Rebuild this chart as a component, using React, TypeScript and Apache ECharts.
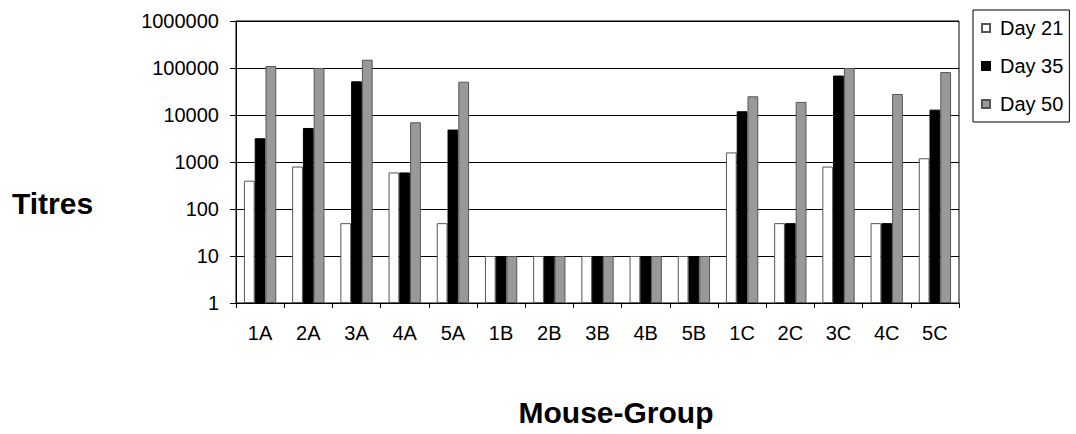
import React, { useEffect, useRef } from "react";
import * as echarts from "echarts";

const categories = ["1A", "2A", "3A", "4A", "5A", "1B", "2B", "3B", "4B", "5B", "1C", "2C", "3C", "4C", "5C"];
const day21 = [400, 800, 50, 600, 50, 10, 10, 10, 10, 10, 1600, 50, 800, 50, 1200];
const day35 = [3200, 5300, 52000, 600, 4900, 10, 10, 10, 10, 10, 12000, 50, 69000, 50, 13000];
const day50 = [110000, 100000, 150000, 7000, 51000, 10, 10, 10, 10, 10, 25000, 19000, 100000, 28000, 82000];
const seriesNames = ["Day 21", "Day 35", "Day 50"];
const yTitle = "Titres";
const xTitle = "Mouse-Group";

const FONT = 'Arial, "Liberation Sans", sans-serif';

export default function App() {
  const ref = useRef<HTMLDivElement>(null);
  useEffect(() => {
    if (!ref.current) return;
    const chart = echarts.init(ref.current, undefined, { renderer: "svg" });
    const barStyles = [
      { color: "#ffffff", borderColor: "#555555", borderWidth: 1 },
      { color: "#000000", borderColor: "#000000", borderWidth: 1 },
      { color: "#999999", borderColor: "#555555", borderWidth: 1 },
    ];
    const data = [day21, day35, day50];
    chart.setOption({
      animation: false,
      backgroundColor: "#ffffff",
      textStyle: { fontFamily: FONT },
      grid: {
        left: 236,
        right: 117,
        top: 21,
        bottom: 131,
        show: true,
        borderColor: "#000000",
        borderWidth: 1,
        backgroundColor: "transparent",
      },
      legend: {
        left: 973,
        top: 10,
        orient: "vertical",
        itemWidth: 8,
        itemHeight: 8,
        itemGap: 18,
        padding: [8, 6, 8, 8],
        borderColor: "#000000",
        borderWidth: 1,
        icon: "rect",
        textStyle: { fontSize: 20, color: "#000", fontFamily: FONT, padding: [0, 0, 0, 5] },
        data: seriesNames,
      },
      xAxis: {
        type: "category",
        data: categories,
        axisLine: { lineStyle: { color: "#000", width: 1 } },
        axisTick: { show: true, alignWithLabel: false, length: 5, lineStyle: { color: "#000" } },
        axisLabel: { fontSize: 20, color: "#000", margin: 20, fontFamily: FONT, interval: 0 },
        splitLine: { show: false },
      },
      yAxis: {
        type: "log",
        logBase: 10,
        min: 1,
        max: 1000000,
        axisLine: { show: true, lineStyle: { color: "#000", width: 1 } },
        axisTick: { show: true, length: 6, lineStyle: { color: "#000" } },
        axisLabel: {
          fontSize: 20,
          color: "#000",
          margin: 17,
          fontFamily: FONT,
          formatter: (v: number) => String(Math.round(v)),
        },
        splitLine: { show: true, lineStyle: { color: "#000", width: 1 } },
      },
      series: seriesNames.map((name, i) => ({
        name,
        type: "bar",
        data: data[i],
        barGap: "0%",
        barCategoryGap: "33%",
        itemStyle: barStyles[i],
      })),
      graphic: [
        {
          type: "text",
          left: 12,
          top: 188,
          style: { text: yTitle, font: `bold 30px ${FONT}`, fill: "#000" },
        },
        {
          type: "text",
          x: 616,
          y: 412,
          style: {
            text: xTitle,
            font: `bold 30px ${FONT}`,
            fill: "#000",
            align: "center",
            verticalAlign: "middle",
          },
        },
      ],
    });
    return () => chart.dispose();
  }, []);
  return (
    <div
      ref={ref}
      style={{ position: "fixed", left: 0, top: 0, width: 1076, height: 434 }}
    />
  );
}
